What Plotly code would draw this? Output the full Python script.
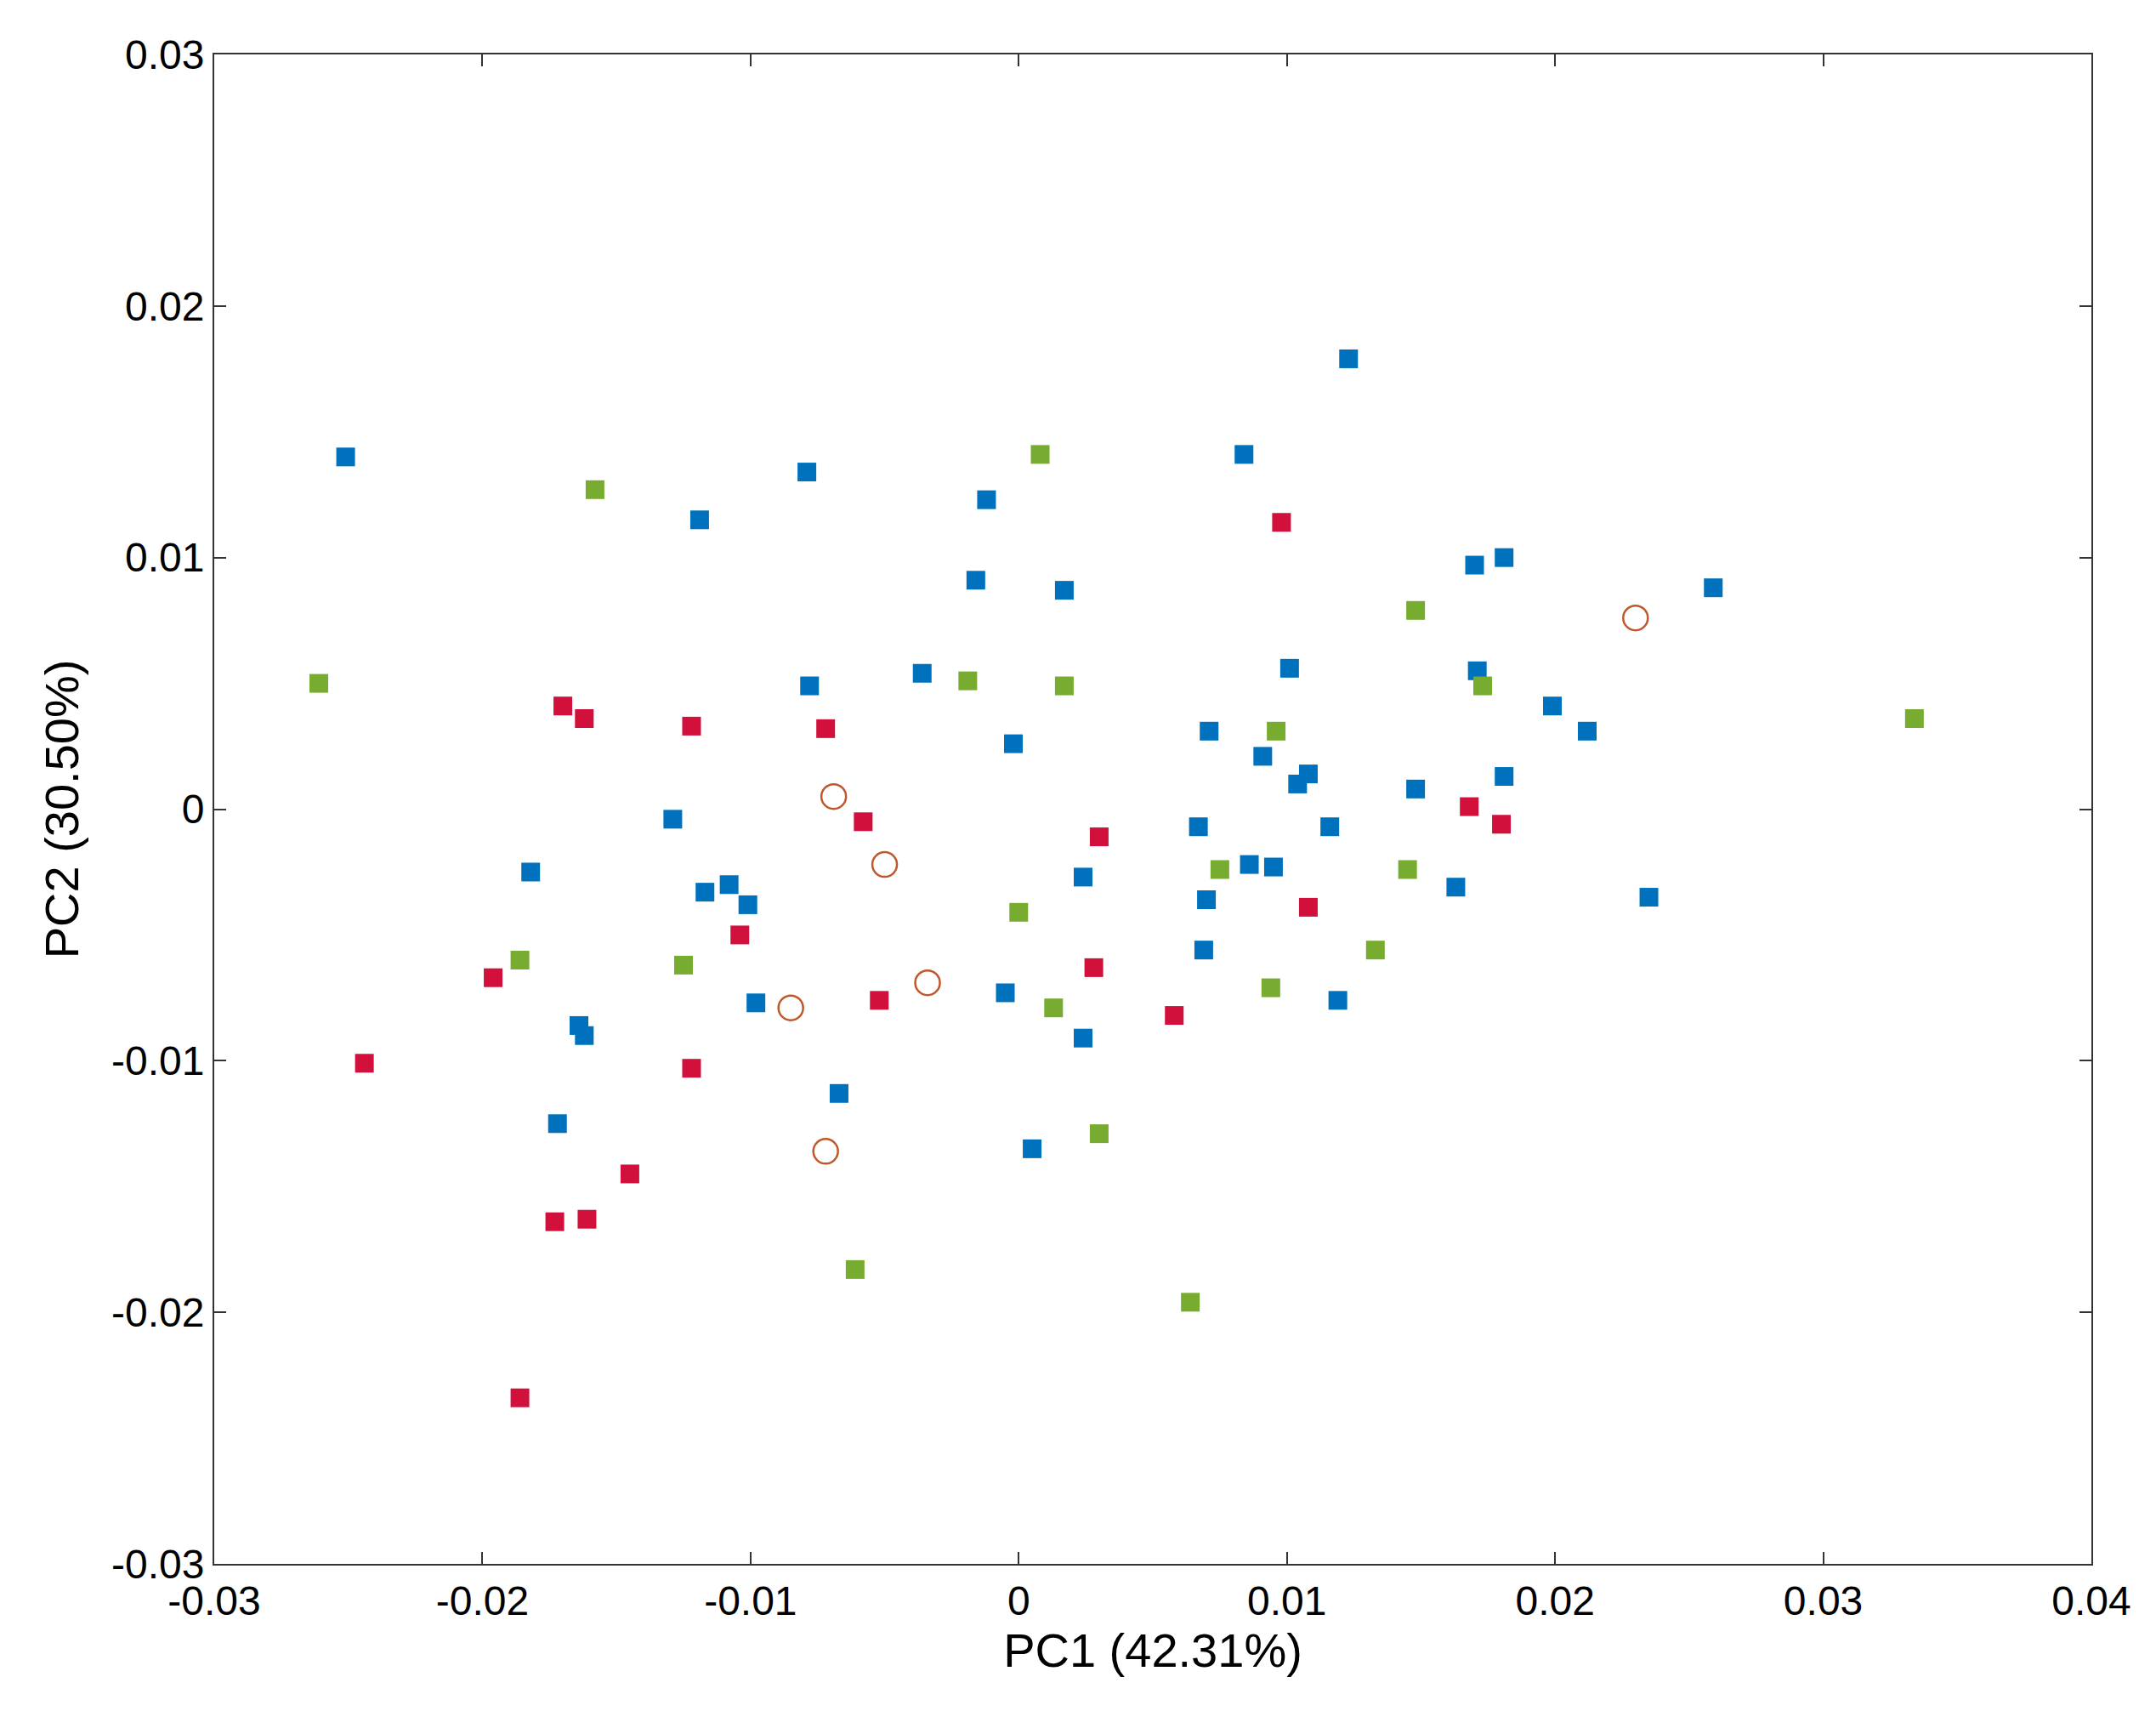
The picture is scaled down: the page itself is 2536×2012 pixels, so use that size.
import plotly.graph_objects as go

blue_x=[-0.0251,-0.0079,-0.0119,-0.0012,-0.0016,0.0017,0.0123,0.0084,0.0170,0.0181,0.0259,-0.0078,-0.0036,-0.0002,0.0101,0.0171,0.0199,0.0212,0.0071,0.0091,0.0104,0.0108,0.0148,0.0181,0.0116,0.0067,-0.0129,-0.0182,-0.0117,-0.0108,-0.0101,-0.0098,0.0024,0.0070,0.0086,0.0095,0.0163,0.0235,0.0069,-0.0005,0.0024,0.0119,-0.0164,-0.0162,-0.0172,-0.0067,0.0005]
blue_y=[0.0140,0.0134,0.0115,0.0123,0.0091,0.0087,0.0179,0.0141,0.0097,0.0100,0.0088,0.0049,0.0054,0.0026,0.0056,0.0055,0.0041,0.0031,0.0031,0.0021,0.0010,0.0014,0.0008,0.0013,-0.0007,-0.0007,-0.0004,-0.0025,-0.0033,-0.0030,-0.0038,-0.0077,-0.0027,-0.0036,-0.0022,-0.0023,-0.0031,-0.0035,-0.0056,-0.0073,-0.0091,-0.0076,-0.0086,-0.0090,-0.0125,-0.0113,-0.0135]
red_x=[0.0098,-0.0170,-0.0162,-0.0122,-0.0072,-0.0058,0.0030,0.0168,0.0180,0.0108,-0.0104,-0.0196,0.0028,-0.0052,0.0058,-0.0244,-0.0122,-0.0145,-0.0173,-0.0161,-0.0186]
red_y=[0.0114,0.0041,0.0036,0.0033,0.0032,-0.0005,-0.0011,0.0001,-0.0006,-0.0039,-0.0050,-0.0067,-0.0063,-0.0076,-0.0082,-0.0101,-0.0103,-0.0145,-0.0164,-0.0163,-0.0234]
green_x=[-0.0261,-0.0158,0.0008,-0.0019,0.0017,0.0148,0.0173,0.0096,0.0334,0.0075,0.0145,0.0000,-0.0186,-0.0125,0.0133,0.0094,0.0013,0.0030,-0.0061,0.0064]
green_y=[0.0050,0.0127,0.0141,0.0051,0.0049,0.0079,0.0049,0.0031,0.0036,-0.0024,-0.0024,-0.0041,-0.0060,-0.0062,-0.0056,-0.0071,-0.0079,-0.0129,-0.0183,-0.0196]
circ_x=[-0.0069,-0.0050,-0.0034,-0.0085,-0.0072,0.0230]
circ_y=[0.0005,-0.0022,-0.0069,-0.0079,-0.0136,0.0076]

fig=go.Figure()
for xs,ys,c in [(blue_x,blue_y,'#0072BD'),(red_x,red_y,'#D1103C'),(green_x,green_y,'#77AC30')]:
    fig.add_trace(go.Scatter(x=xs,y=ys,mode='markers',marker=dict(symbol='square',size=22,color=c),showlegend=False))
fig.add_trace(go.Scatter(x=circ_x,y=circ_y,mode='markers',marker=dict(symbol='circle-open',size=29,color='#C0582A',line=dict(width=2.5)),showlegend=False))

ax=dict(showgrid=False,zeroline=False,showline=True,mirror='ticks',linecolor='#333',linewidth=2,ticks='inside',ticklen=14,tickwidth=2,tickcolor='#333',tickfont=dict(family='Arial, Liberation Sans',size=48,color='black'))
fig.update_layout(width=2536,height=2012,paper_bgcolor='white',plot_bgcolor='white',
    margin=dict(l=244,r=84,t=56,b=181),
    xaxis=dict(ax,range=[-0.03,0.04],tickvals=[-0.03,-0.02,-0.01,0,0.01,0.02,0.03,0.04],ticktext=['-0.03','-0.02','-0.01','0','0.01','0.02','0.03','0.04'],
               title=dict(text='PC1 (42.31%)',font=dict(family='Arial, Liberation Sans',size=56,color='black'),standoff=10)),
    yaxis=dict(ax,range=[-0.03,0.03],tickvals=[-0.03,-0.02,-0.01,0,0.01,0.02,0.03],ticktext=['-0.03','-0.02','-0.01','0','0.01','0.02','0.03'],
               title=dict(text='PC2 (30.50%)',font=dict(family='Arial, Liberation Sans',size=56,color='black'),standoff=20)))
fig.write_html('out.html')
